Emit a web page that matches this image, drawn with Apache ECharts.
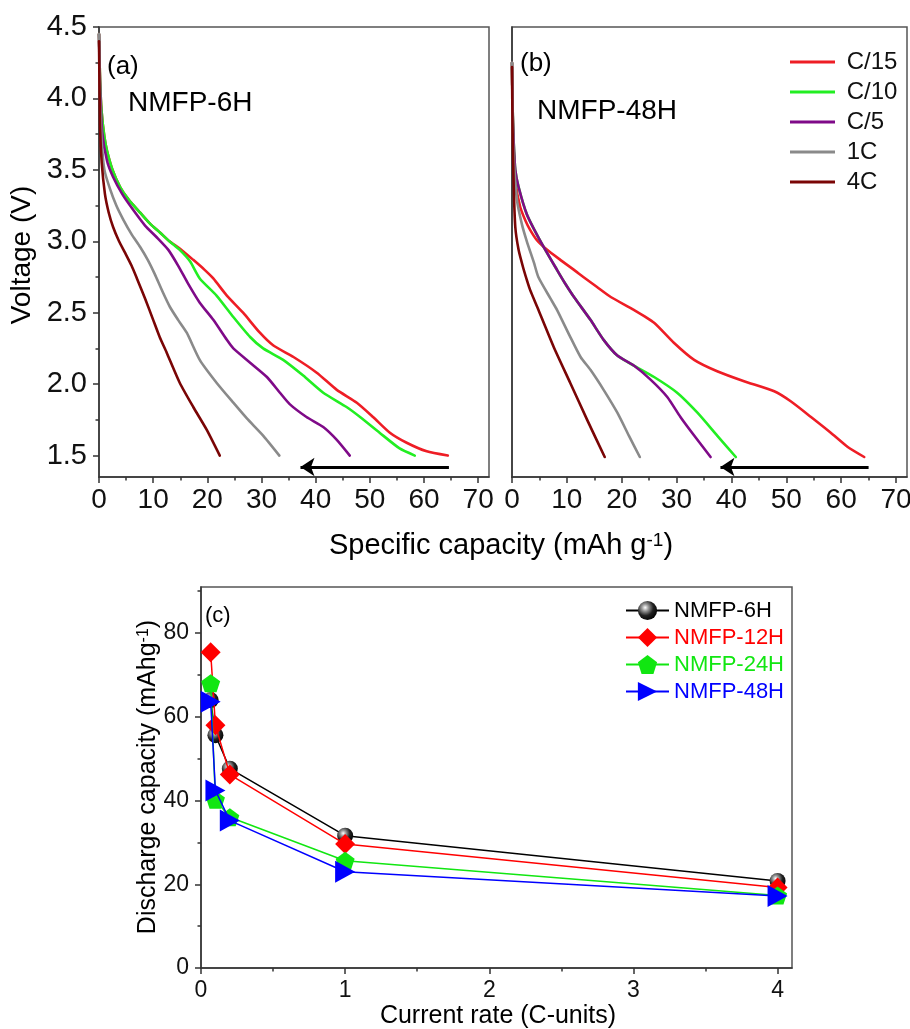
<!DOCTYPE html>
<html><head><meta charset="utf-8">
<script src="https://cdn.jsdelivr.net/npm/echarts@6/dist/echarts.min.js"></script>
<style>html,body{margin:0;padding:0;background:#fff;}#c{width:910px;height:1029px;}</style>
</head><body><div id="c"></div>
<script>
const FONT = '"Liberation Sans", Arial, Helvetica, sans-serif';

// ---- Panel (a) NMFP-6H : [specific capacity (mAh/g), voltage (V)]
const a_C15 = [[0,4.45],[0.2,4.12],[0.5,3.9],[1.0,3.73],[1.5,3.63],[2.5,3.5],[3.9,3.38],[5.5,3.29],[7.6,3.2],[9.5,3.12],[11.3,3.06],[13.0,3.0],[14.9,2.95],[17.4,2.87],[19.5,2.8],[21.1,2.74],[23.6,2.62],[26.6,2.5],[29.7,2.36],[32.2,2.27],[35.9,2.19],[40.2,2.08],[43.9,1.96],[47.6,1.87],[50.6,1.77],[53.7,1.66],[56.8,1.59],[60.5,1.53],[64.4,1.5]];
const a_C10 = [[0,4.45],[0.2,4.12],[0.5,3.9],[1.0,3.73],[1.5,3.63],[2.5,3.5],[3.9,3.38],[5.5,3.29],[7.6,3.2],[9.5,3.12],[11.3,3.06],[13.0,3.0],[14.9,2.94],[16.8,2.86],[18.6,2.74],[21.7,2.62],[24.8,2.47],[27.9,2.33],[30.3,2.25],[34.0,2.17],[37.7,2.06],[41.4,1.94],[45.7,1.84],[48.2,1.77],[51.8,1.66],[55.5,1.55],[58.3,1.5]];
const a_C5 = [[0,4.45],[0.2,4.08],[0.6,3.76],[1.5,3.56],[2.6,3.45],[4.3,3.33],[6.3,3.22],[8.5,3.11],[10.6,3.03],[12.8,2.94],[14.6,2.83],[16.5,2.7],[18.6,2.57],[21.1,2.45],[23.6,2.31],[24.8,2.25],[27.9,2.15],[31.0,2.05],[33.4,1.94],[35.2,1.86],[38.3,1.77],[41.4,1.7],[43.9,1.61],[46.3,1.5]];
const a_1C = [[0,4.45],[0.2,4.0],[0.5,3.7],[1.0,3.5],[2.0,3.37],[3.2,3.25],[4.5,3.15],[6.0,3.05],[7.6,2.96],[9.0,2.87],[10.3,2.77],[11.7,2.65],[13.1,2.54],[14.6,2.45],[16.2,2.36],[18.6,2.17],[21.7,2.01],[24.8,1.87],[27.3,1.76],[30.3,1.64],[33.3,1.5]];
const a_4C = [[0,4.4],[0.2,3.8],[0.5,3.55],[1.1,3.33],[1.8,3.2],[2.6,3.1],[3.7,3.0],[4.8,2.92],[6.0,2.83],[7.0,2.74],[8.5,2.6],[10.0,2.45],[11.2,2.33],[12.5,2.22],[14.9,2.01],[17.4,1.84],[19.9,1.68],[22.3,1.5]];

// ---- Panel (b) NMFP-48H
const b_C15 = [[0,4.25],[0.1,3.95],[0.3,3.64],[0.7,3.4],[1.5,3.24],[2.5,3.14],[3.3,3.08],[4.5,3.01],[6.4,2.94],[8.8,2.87],[11.3,2.8],[13.0,2.75],[15.5,2.68],[18.0,2.61],[22.2,2.52],[25.9,2.43],[29.5,2.29],[33.2,2.17],[37.4,2.09],[42.3,2.02],[47.8,1.95],[50.8,1.88],[54.5,1.77],[58.1,1.66],[61.2,1.56],[64.2,1.49]];
const b_C10 = [[0,4.25],[0.1,3.95],[0.3,3.7],[0.6,3.5],[1.2,3.38],[2.7,3.19],[5.2,3.0],[8.2,2.8],[9.6,2.71],[11.3,2.61],[14.3,2.45],[16.7,2.31],[19.2,2.2],[22.2,2.13],[25.9,2.05],[30.1,1.94],[33.8,1.8],[37.4,1.64],[40.8,1.49]];
const b_C5 = [[0,4.25],[0.1,3.95],[0.3,3.7],[0.6,3.5],[1.2,3.38],[2.7,3.19],[5.2,3.0],[8.2,2.8],[9.6,2.71],[11.3,2.61],[14.3,2.45],[16.7,2.31],[19.2,2.2],[22.2,2.13],[25.3,2.03],[28.3,1.91],[30.7,1.77],[33.2,1.64],[36.2,1.49]];
const b_1C = [[0,4.25],[0.1,3.9],[0.3,3.6],[0.9,3.29],[1.8,3.12],[2.7,3.0],[4.0,2.85],[4.8,2.75],[7.0,2.6],[8.2,2.52],[10.5,2.34],[12.5,2.19],[14.3,2.1],[16.7,1.96],[19.2,1.8],[21.3,1.64],[23.3,1.49]];
const b_4C = [[0,4.22],[0.1,3.8],[0.3,3.4],[0.6,3.1],[1.2,2.94],[2.0,2.82],[2.7,2.73],[3.3,2.66],[4.6,2.54],[7.6,2.26],[10.6,2.01],[13.7,1.75],[16.9,1.49]];

const rateNames = ['C/15','C/10','C/5','1C','4C'];
const rateColors = ['#ee1d25','#22ee22','#7f0a88','#8a8a8a','#7a0505'];
const xTicksTop = [0,10,20,30,40,50,60,70];
const xMinorTop = [5,15,25,35,45,55,65];
const yTicksTop = [1.5,2.0,2.5,3.0,3.5,4.0,4.5];
const yMinorTop = [1.75,2.25,2.75,3.25,3.75,4.25];
const arrowA = [[64.6,1.42],[37.2,1.42]];
const arrowB = [[65.0,1.42],[38.0,1.42]];

// ---- Panel (c) rate capability
const rateC = [0.067, 0.1, 0.2, 1, 4];
const cap6H = [64.0, 55.6, 47.6, 31.6, 20.8];
const cap12H = [75.4, 58.0, 46.2, 29.6, 19.2];
const cap24H = [68.0, 40.2, 36.0, 25.6, 17.3];
const cap48H = [63.6, 42.4, 35.2, 23.0, 17.2];
const sampleNames = ['NMFP-6H','NMFP-12H','NMFP-24H','NMFP-48H'];
const sampleColors = ['#000000','#ff0000','#11e611','#0000ff'];
const xTicksC = [0,1,2,3,4];
const xMinorC = [0.5,1.5,2.5,3.5];
const yTicksC = [0,20,40,60,80];
const yMinorC = [10,30,50,70,90];

const AX = '#333';
const chart = echarts.init(document.getElementById('c'), null, {renderer:'canvas'});

function majorAxis(grid, min, max, ticks, fs, margin, fmt, pos) {
  return {type:'value', gridIndex:grid, min:min, max:max, position:pos,
    axisLine:{show:true, onZero:false, lineStyle:{color:AX, width:1.5}},
    axisTick:{show:true, inside:false, length:6, customValues:ticks, lineStyle:{color:AX, width:1.5}},
    axisLabel:{show:true, customValues:ticks, fontSize:fs, fontFamily:FONT, color:'#111', margin:margin, formatter:fmt},
    splitLine:{show:false}, minorTick:{show:false}};
}
function minorAxis(grid, min, max, ticks, pos) {
  return {type:'value', gridIndex:grid, min:min, max:max, position:pos,
    axisLine:{show:false, onZero:false},
    axisTick:{show:true, inside:false, length:3.5, customValues:ticks, lineStyle:{color:AX, width:1.5}},
    axisLabel:{show:false}, splitLine:{show:false}};
}
const f1 = v => Number(v).toFixed(1);
const f0 = v => String(Math.round(v));

const xAxis = [
  majorAxis(0, 0, 72, xTicksTop, 28, 9, f0, 'bottom'),
  minorAxis(0, 0, 72, xMinorTop, 'bottom'),
  majorAxis(1, 0, 72, xTicksTop, 28, 9, f0, 'bottom'),
  minorAxis(1, 0, 72, xMinorTop, 'bottom'),
  majorAxis(2, 0, 4.1, xTicksC, 23, 11, f0, 'bottom'),
  minorAxis(2, 0, 4.1, xMinorC, 'bottom')
];
const yAxis = [
  majorAxis(0, 1.35, 4.5, yTicksTop, 29, 12, f1, 'left'),
  minorAxis(0, 1.35, 4.5, yMinorTop, 'left'),
  {type:'value', gridIndex:1, min:1.35, max:4.5, position:'left',
    axisLine:{show:true, onZero:false, lineStyle:{color:AX, width:1.5}},
    axisTick:{show:false}, axisLabel:{show:false}, splitLine:{show:false}},
  majorAxis(2, 0, 91, yTicksC, 23, 12, f0, 'left'),
  minorAxis(2, 0, 91, yMinorC, 'left')
];

const topData = [[a_C15,a_C10,a_C5,a_1C,a_4C],[b_C15,b_C10,b_C5,b_1C,b_4C]];
const series = [];
topData.forEach((set, p) => {
  set.forEach((d, i) => {
    series.push({type:'line', name:rateNames[i], xAxisIndex:p*2, yAxisIndex:p===0?0:2,
      data:d, showSymbol:false, symbol:'none', smooth:0.2,
      color:rateColors[i], itemStyle:{color:rateColors[i]},
      lineStyle:{color:rateColors[i], width:2.6, join:'round', cap:'round'}, z:3});
  });
});
[[arrowA,0,0],[arrowB,2,2]].forEach(([ar,xi,yi]) => {
  series.push({type:'lines', name:'arrow', coordinateSystem:'cartesian2d', xAxisIndex:xi, yAxisIndex:yi,
    symbol:['none','arrow'], symbolSize:[11,14], polyline:false,
    lineStyle:{color:'#000', width:3.2, opacity:1}, data:[{coords:ar}], z:4});
});

const sphere = {type:'radial', x:0.38, y:0.35, r:0.7,
  colorStops:[{offset:0,color:'#ffffff'},{offset:0.25,color:'#9a9a9a'},{offset:0.6,color:'#222'},{offset:1,color:'#000'}]};
const pentagon = 'path://M0,-1L0.951,-0.309L0.588,0.809L-0.588,0.809L-0.951,-0.309Z';
const triRight = 'path://M0,0L1,0.5L0,1Z';
const cData = [cap6H, cap12H, cap24H, cap48H];
const cSym = ['circle','diamond',pentagon,triRight];
const cSize = [16,[20,20],[19,18],[20,22]];
const cFill = [sphere, sampleColors[1], sampleColors[2], sampleColors[3]];
cData.forEach((vals, i) => {
  series.push({type:'line', name:sampleNames[i], xAxisIndex:4, yAxisIndex:3,
    data: rateC.map((r,k) => [r, vals[k]]),
    symbol:cSym[i], symbolSize:cSize[i], showSymbol:true,
    itemStyle:{color:cFill[i]}, lineStyle:{color:sampleColors[i], width:1.5}, z:3+i});
});

const txt = (text, x, y, size, extra) => Object.assign({type:'text', x:x, y:y,
  style:{text:text, fontSize:size, fontFamily:FONT, fill:'#000', align:'left', verticalAlign:'top'}}, extra||{});

chart.setOption({
  animation:false,
  backgroundColor:'#fff',
  grid:[
    {left:99, top:27, width:390, height:450, show:true, borderColor:'#555', borderWidth:1.5, containLabel:false, outerBoundsMode:'none'},
    {left:512, top:27, width:395, height:450, show:true, borderColor:'#555', borderWidth:1.5, containLabel:false, outerBoundsMode:'none'},
    {left:201, top:587, width:591, height:381, show:true, borderColor:'#555', borderWidth:1.5, containLabel:false, outerBoundsMode:'none'}
  ],
  xAxis:xAxis, yAxis:yAxis,
  legend:[
    {data:rateNames, orient:'vertical', left:790, top:47, padding:0, icon:'rect', itemWidth:45, itemHeight:3, itemGap:0,
      selectedMode:false, formatter:n => ' ' + n,
      textStyle:{fontSize:24, fontFamily:FONT, color:'#111', lineHeight:30}},
    {data:sampleNames.map((n,i)=>({name:n, textStyle:{color:sampleColors[i]}})), orient:'vertical', left:625, top:597,
      padding:0, itemWidth:43, itemHeight:24, itemGap:0, selectedMode:false,
      textStyle:{fontSize:22, fontFamily:FONT, lineHeight:27}}
  ],
  graphic:[
    txt('(a)', 107, 54, 26),
    txt('NMFP-6H', 128, 89, 28),
    txt('(b)', 520, 51, 26),
    txt('NMFP-48H', 537, 97, 28),
    txt('(c)', 205, 605, 22),
    {type:'text', x:22, y:255, rotation:Math.PI/2,
      style:{text:'Voltage (V)', fontSize:28, fontFamily:FONT, fill:'#000', align:'center', verticalAlign:'middle'}},
    {type:'text', x:501, y:546,
      style:{text:'{n|Specific capacity (mAh g}{s|-1}{n|)}', align:'center', verticalAlign:'middle', fill:'#000',
        rich:{n:{fontSize:29, fontFamily:FONT, fill:'#000'}, s:{fontSize:19, fontFamily:FONT, fill:'#000', verticalAlign:'top'}}}},
    {type:'text', x:148, y:777, rotation:Math.PI/2,
      style:{text:'{n|Discharge capacity (mAhg}{s|-1}{n|)}', align:'center', verticalAlign:'middle', fill:'#000',
        rich:{n:{fontSize:25, fontFamily:FONT, fill:'#000'}, s:{fontSize:16, fontFamily:FONT, fill:'#000', verticalAlign:'top'}}}},
    {type:'text', x:498, y:1016,
      style:{text:'Current rate (C-units)', fontSize:25, fontFamily:FONT, fill:'#000', align:'center', verticalAlign:'middle'}}
  ],
  series:series
});
</script></body></html>
